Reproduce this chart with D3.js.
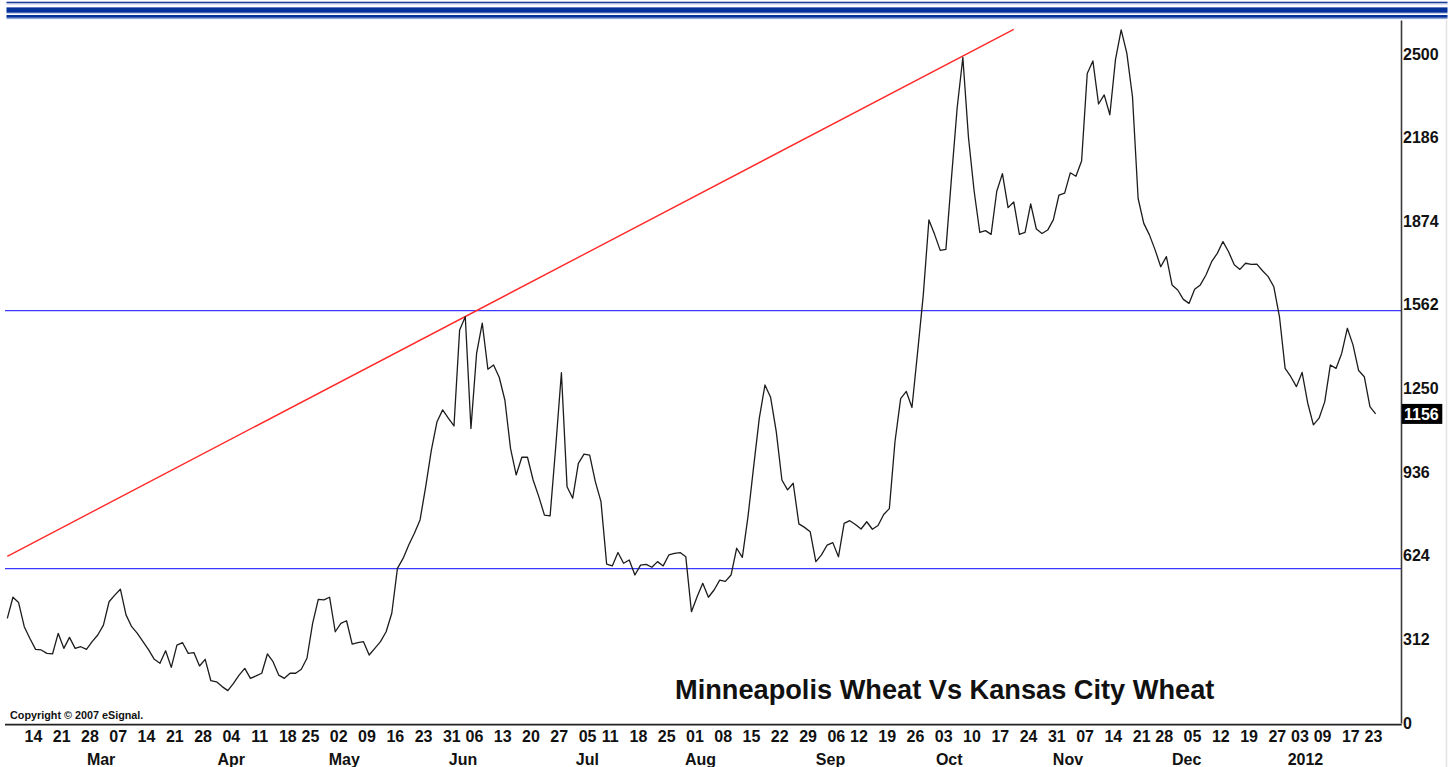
<!DOCTYPE html>
<html><head><meta charset="utf-8">
<script src="https://cdn.jsdelivr.net/npm/d3@7"></script>
<style>
body{margin:0;background:#fff;}
svg{display:block;font-family:Arial,"Liberation Sans",sans-serif;}
</style>
</head><body>
<svg id="chart" width="1453" height="767"></svg>
<script>
// ---------- data ----------
const startDate = "2011-02-08";
const endDate = "2012-01-24";
const holidays = ["2011-04-22","2011-05-30","2011-07-04","2011-09-05","2011-11-24","2011-12-26","2012-01-02","2012-01-16"];
const spreadValues = [
  391,470,450,360,316,275,273,260,258,335,
  279,320,279,285,275,304,329,366,453,478,
  500,404,360,335,304,273,238,223,270,208,
  291,300,260,263,213,238,158,154,136,121,
  148,179,204,167,176,186,258,229,179,167,
  186,186,201,242,372,462,460,470,341,372,
  382,295,300,304,254,279,304,341,410,578,
  615,665,709,759,883,1020,1126,1170,1139,1110,
  1469,1518,1101,1381,1494,1322,1338,1292,1207,1026,
  927,993,993,908,846,777,774,1033,1309,883,
  840,970,1005,1001,902,827,594,587,637,597,
  609,553,590,593,582,603,587,628,634,637,
  621,416,472,522,470,497,534,529,553,653,
  619,771,958,1139,1263,1217,1089,908,871,896,
  744,731,715,603,628,665,674,621,746,756,
  742,725,752,724,738,779,801,1052,1212,1239,
  1179,1386,1599,1880,1826,1766,1770,2040,2300,2487,
  2187,1987,1833,1840,1826,1987,2053,1926,1947,1826,
  1833,1940,1846,1829,1842,1880,1973,1980,2056,2043,
  2100,2427,2474,2313,2347,2273,2480,2590,2503,2341,
  1960,1867,1824,1768,1705,1743,1637,1618,1583,1568,
  1621,1637,1674,1724,1755,1799,1761,1712,1695,1718,
  1714,1715,1690,1668,1630,1518,1325,1294,1257,1310,
  1195,1114,1139,1200,1338,1325,1381,1475,1413,1317,
  1294,1182,1155
];
const yTickValues = [0, 312.5, 625, 937.5, 1250, 1562.5, 1875, 2187.5, 2500];
const yTickLabels = ["0","312","624","936","1250","1562","1874","2186","2500"];
const levelValues = [1541, 577];
const trendDates = ["2011-02-08", "2011-10-20"];
const trendValues = [623, 2592];
const titleText = "Minneapolis Wheat Vs Kansas City Wheat";
const copyrightText = "Copyright \u00A9 2007 eSignal.";
const lastValueText = "1156";

// ---------- setup ----------
const svg = d3.select("#chart");
const fmt = d3.utcFormat("%Y-%m-%d");
const parse = s => new Date(s + "T00:00:00Z");
const dates = d3.utcDays(parse(startDate), d3.utcDay.offset(parse(endDate), 1))
  .filter(d => d.getUTCDay() % 6 !== 0 && !holidays.includes(fmt(d)))
  .map(fmt);
const data = dates.map((d, i) => ({date: d, value: spreadValues[i]}));

const plot = {left: 5, right: 1401, top: 20, bottom: 723};
const x = d3.scalePoint().domain(dates).range([7.3, 1375.6]);
const y = d3.scaleLinear().domain([0, 2627]).range([723, 20]);

// ---------- banner ----------
const bannerStripes = [
  {y: 1.7, h: 1.5, c: "#183c98"},
  {y: 3.2, h: 1.2, c: "#a9b7df"},
  {y: 7.0, h: 0.8, c: "#8ea1d6"},
  {y: 7.6, h: 5.2, c: "#04329a"},
  {y: 12.8, h: 0.7, c: "#8ea1d6"},
  {y: 15.0, h: 2.8, c: "#04329a"},
  {y: 17.8, h: 1.3, c: "#8fa5da"}
];
svg.append("g").selectAll("rect").data(bannerStripes).join("rect")
  .attr("x", 6.5).attr("width", 1441).attr("y", d => d.y).attr("height", d => d.h)
  .attr("fill", d => d.c);

// right-edge light border
svg.append("line").attr("x1", 1446.5).attr("x2", 1446.5).attr("y1", 20).attr("y2", 767)
  .attr("stroke", "#e3e3e3").attr("stroke-width", 1.5);

// clip
svg.append("clipPath").attr("id", "clip").append("rect")
  .attr("x", plot.left).attr("y", plot.top)
  .attr("width", plot.right - plot.left).attr("height", plot.bottom - plot.top);

const g = svg.append("g").attr("clip-path", "url(#clip)");

// horizontal level lines
g.selectAll("line.level").data(levelValues).join("line")
  .attr("class", "level")
  .attr("x1", plot.left).attr("x2", plot.right)
  .attr("y1", d => y(d)).attr("y2", d => y(d))
  .attr("stroke", "#3a3aff").attr("stroke-width", 1.3);

// trend line
g.append("path")
  .datum(trendDates.map((d, i) => ({date: d, value: trendValues[i]})))
  .attr("d", d3.line().x(d => x(d.date)).y(d => y(d.value)))
  .attr("fill", "none").attr("stroke", "#ff2a2a").attr("stroke-width", 1.4);

// spread line
g.append("path").datum(data)
  .attr("d", d3.line().x(d => x(d.date)).y(d => y(d.value)))
  .attr("fill", "none").attr("stroke", "#1c1c1c").attr("stroke-width", 1.3)
  .attr("stroke-linejoin", "round");

// ---------- right axis ----------
const yAxis = d3.axisRight(y).tickValues(yTickValues)
  .tickFormat((d, i) => yTickLabels[i]).tickSize(0).tickPadding(2).tickSizeOuter(0);
const ya = svg.append("g").attr("transform", `translate(${plot.right},0)`).call(yAxis);
ya.select(".domain").attr("stroke", "#3a3a3a").attr("stroke-width", 1.6);
ya.selectAll("text").attr("font-size", 16).attr("font-weight", "bold")
  .attr("fill", "#111").attr("font-family", "Arial, 'Liberation Sans', sans-serif");

// bottom baseline
svg.append("line").attr("x1", plot.left).attr("x2", plot.right + 0.8)
  .attr("y1", 724.6).attr("y2", 724.6).attr("stroke", "#222").attr("stroke-width", 1.8);

// ---------- bottom axis: weekly ticks ----------
const weekStarts = dates.filter((d, i) => i > 0 &&
  +d3.utcMonday.floor(parse(d)) !== +d3.utcMonday.floor(parse(dates[i - 1])));
const xAxis = d3.axisBottom(x).tickValues(weekStarts)
  .tickFormat(d => d.slice(8)).tickSize(0).tickPadding(0);
const xa = svg.append("g").attr("transform", "translate(3,730)").call(xAxis);
xa.select(".domain").remove();
xa.selectAll("text").attr("font-size", 16).attr("font-weight", "bold").attr("fill", "#111")
  .attr("dy", "0.71em").attr("y", 1)
  .attr("font-family", "Arial, 'Liberation Sans', sans-serif");

// month labels
const monthStarts = dates.filter((d, i) => i > 0 && d.slice(5, 7) !== dates[i - 1].slice(5, 7));
const monthFmt = d3.utcFormat("%b"), yearFmt = d3.utcFormat("%Y");
svg.append("g").selectAll("text").data(monthStarts).join("text")
  .attr("x", d => x(d) + 9).attr("y", 765)
  .attr("text-anchor", "middle").attr("font-size", 16).attr("font-weight", "bold")
  .attr("fill", "#111")
  .text(d => d.slice(5, 7) === "01" ? yearFmt(parse(d)) : monthFmt(parse(d)));

// last value marker
const last = data[data.length - 1];
svg.append("rect").attr("x", plot.right + 0.8).attr("y", y(last.value) - 10)
  .attr("width", 40.5).attr("height", 20).attr("fill", "#000");
svg.append("text").attr("x", plot.right + 3).attr("y", y(last.value))
  .attr("dy", "0.36em").attr("font-size", 16).attr("font-weight", "bold")
  .attr("fill", "#fff").text(lastValueText);

// title and copyright
svg.append("text").attr("x", 675).attr("y", 698.5)
  .attr("font-size", 27.2).attr("font-weight", "bold").attr("fill", "#111")
  .text(titleText);
svg.append("text").attr("x", 10).attr("y", 719)
  .attr("font-size", 10.8).attr("font-weight", "bold").attr("fill", "#111")
  .text(copyrightText);
</script>
</body></html>
